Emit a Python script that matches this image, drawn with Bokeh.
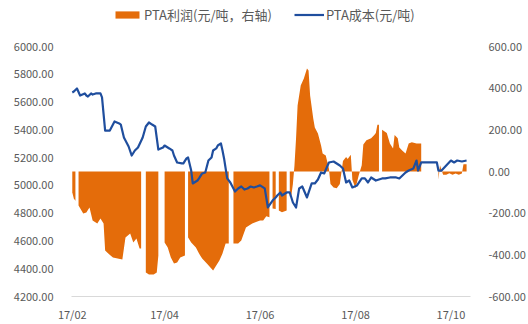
from datetime import datetime, timedelta
from bokeh.plotting import figure
from bokeh.layouts import column
from bokeh.models import (Range1d, LinearAxis, NumeralTickFormatter, FixedTicker,
                          DatetimeTickFormatter, Legend, LegendItem, ColumnDataSource)
from bokeh.embed import file_html
from bokeh.resources import INLINE

# ---------------- data ----------------
cost_dates = [
    "2017-02-01", "2017-02-02", "2017-02-04", "2017-02-06", "2017-02-09", "2017-02-10",
    "2017-02-11", "2017-02-13", "2017-02-14", "2017-02-16", "2017-02-19", "2017-02-20",
    "2017-02-22", "2017-02-25", "2017-02-28", "2017-03-03", "2017-03-04", "2017-03-06",
    "2017-03-09", "2017-03-11", "2017-03-13", "2017-03-15", "2017-03-18", "2017-03-20",
    "2017-03-22", "2017-03-24", "2017-03-26", "2017-03-28", "2017-03-31", "2017-04-01",
    "2017-04-04", "2017-04-06", "2017-04-07", "2017-04-09", "2017-04-12", "2017-04-13",
    "2017-04-15", "2017-04-16", "2017-04-18", "2017-04-19", "2017-04-22", "2017-04-23",
    "2017-04-25", "2017-04-27", "2017-04-29", "2017-05-01", "2017-05-02", "2017-05-04",
    "2017-05-05", "2017-05-07", "2017-05-08", "2017-05-09", "2017-05-11", "2017-05-13",
    "2017-05-16", "2017-05-18", "2017-05-20", "2017-05-22", "2017-05-24", "2017-05-26",
    "2017-05-28", "2017-05-30", "2017-06-01", "2017-06-04", "2017-06-06", "2017-06-09",
    "2017-06-11", "2017-06-12", "2017-06-14", "2017-06-15", "2017-06-18", "2017-06-20",
    "2017-06-22", "2017-06-24", "2017-06-26", "2017-06-28", "2017-07-01", "2017-07-04",
    "2017-07-06", "2017-07-08", "2017-07-10", "2017-07-12", "2017-07-15", "2017-07-18",
    "2017-07-22", "2017-07-24", "2017-07-26", "2017-07-28", "2017-07-30", "2017-08-02",
    "2017-08-05", "2017-08-07", "2017-08-09", "2017-08-11", "2017-08-14", "2017-08-18",
    "2017-08-20", "2017-08-23", "2017-08-27", "2017-08-29", "2017-09-02", "2017-09-04",
    "2017-09-07", "2017-09-09", "2017-09-10", "2017-09-12", "2017-09-15", "2017-09-18",
    "2017-09-22", "2017-09-23", "2017-09-25", "2017-09-28", "2017-10-01", "2017-10-03",
    "2017-10-05", "2017-10-08", "2017-10-11",
]
cost_values = [
    5669, 5676, 5698, 5647, 5662, 5647,
    5640, 5662, 5654, 5662, 5662, 5633,
    5395, 5395, 5460, 5446, 5438, 5345,
    5280, 5215, 5251, 5273, 5345, 5424,
    5453, 5438, 5424, 5258, 5273, 5287,
    5266, 5251, 5215, 5165, 5158, 5158,
    5194, 5201, 5107, 5014, 5035, 5050,
    5086, 5093, 5179, 5201, 5251, 5266,
    5287, 5302, 5251, 5194, 5050, 5021,
    4956, 4978, 4992, 4970, 4978, 4992,
    4985, 4992, 5000, 4978, 4841, 4891,
    4913, 4927, 4949, 4927, 4949, 4949,
    4877, 4841, 4978, 4992, 4913, 5014,
    5014, 5042, 5093, 5086, 5165, 5172,
    5143, 5122, 5021, 5035, 4985, 5000,
    5050, 5050, 5021, 5057, 5035, 5050,
    5050, 5057, 5057, 5050, 5093, 5107,
    5122, 5179, 5107, 5165, 5165, 5165,
    5165, 5107, 5107, 5143, 5179, 5165,
    5179, 5172, 5179,
]

# profit (right axis); None marks a missing day (gap in the area)
profit_dates = [
    "2017-02-01", "2017-02-02", "2017-02-03", "2017-02-04", "2017-02-05", "2017-02-08",
    "2017-02-10", "2017-02-12", "2017-02-14", "2017-02-17", "2017-02-19", "2017-02-21",
    "2017-02-22", "2017-02-24", "2017-02-27", "2017-03-02", "2017-03-05", "2017-03-07",
    "2017-03-10", "2017-03-12", "2017-03-14", "2017-03-16", "2017-03-17", "2017-03-18",
    "2017-03-20", "2017-03-22", "2017-03-25", "2017-03-27", "2017-03-28", "2017-03-30",
    "2017-04-01", "2017-04-03", "2017-04-05", "2017-04-07", "2017-04-09", "2017-04-11",
    "2017-04-14", "2017-04-15", "2017-04-16", "2017-04-18", "2017-04-21", "2017-04-23",
    "2017-04-25", "2017-04-28", "2017-05-02", "2017-05-04", "2017-05-06", "2017-05-08",
    "2017-05-10", "2017-05-12", "2017-05-13", "2017-05-15", "2017-05-18", "2017-05-20",
    "2017-05-23", "2017-05-27", "2017-06-01", "2017-06-03", "2017-06-05", "2017-06-07",
    "2017-06-08", "2017-06-09", "2017-06-11", "2017-06-12", "2017-06-13", "2017-06-15",
    "2017-06-18", "2017-06-19", "2017-06-20", "2017-06-21", "2017-06-22", "2017-06-23",
    "2017-06-24", "2017-06-25", "2017-06-27", "2017-06-29", "2017-07-01", "2017-07-02",
    "2017-07-03", "2017-07-05", "2017-07-06", "2017-07-08", "2017-07-10", "2017-07-11",
    "2017-07-13", "2017-07-15", "2017-07-16", "2017-07-18", "2017-07-20", "2017-07-22",
    "2017-07-24", "2017-07-26", "2017-07-27", "2017-07-29", "2017-07-30", "2017-08-01",
    "2017-08-03", "2017-08-05", "2017-08-06", "2017-08-08", "2017-08-11", "2017-08-13",
    "2017-08-14", "2017-08-15", "2017-08-16", "2017-08-17", "2017-08-18", "2017-08-21",
    "2017-08-23", "2017-08-25", "2017-08-26", "2017-08-28", "2017-08-29", "2017-08-31",
    "2017-09-02", "2017-09-04", "2017-09-06", "2017-09-09", "2017-09-12", "2017-09-13",
    "2017-09-23", "2017-09-24", "2017-09-26", "2017-09-28", "2017-09-30", "2017-10-02",
    "2017-10-04", "2017-10-06", "2017-10-08", "2017-10-09", "2017-10-11",
]
profit_values = [
    -100, -130, -140, None, -163, -202,
    -197, -173, -235, -250, -226, -250,
    -379, -394, -413, -418, -422, -317,
    -298, -341, -322, -370, -370, None,
    -485, -494, -494, -485, -403, None,
    -341, -365, -413, -442, -437, -413,
    -403, None, -317, -341, -365, -394,
    -418, -442, -475, -451, -427, -394,
    -345, -345, None, -346, -346, -331,
    -269, -250, -235, -235, -215, -220,
    None, -178, -180, None, -187, -195,
    -187, None, -120, -115, -60, 29,
    158, 317, 413, 446, 494, 485,
    365, 254, 211, 182, 125, 86,
    77, 14, -60, -77, -80, -60,
    50, 70, 60, 80, -40, -80,
    -20, 30, 130, 150, 160, 175,
    185, 225, 225, None, 200, 185,
    135, 110, 175, 160, 115, 100,
    86, 135, 140, 135, 135, None,
    -40, 30, -15, -15, -8, -15,
    -10, -15, -10, 35, 35,
]

x_tick_dates = ["2017-02-01", "2017-04-01", "2017-06-01", "2017-08-01", "2017-10-01"]
left_ticks = [4200, 4400, 4600, 4800, 5000, 5200, 5400, 5600, 5800, 6000]
right_ticks = [-600, -400, -200, 0, 200, 400, 600]

profit_label = "PTA利润(元/吨，右轴)"
cost_label = "PTA成本(元/吨)"

# ---------------- styling ----------------
ORANGE = "#E46C0A"
BLUE = "#1F4E9E"
TXT = "#595959"
FONT = "Noto Sans CJK SC"
FS = "11px"
LEG_FS = "13px"
LEG_H = 34


def d(s):
    return datetime.strptime(s, "%Y-%m-%d")


x_start = d("2017-02-01") - timedelta(hours=12)
x_end = d("2017-10-13") + timedelta(hours=12)

p = figure(width=528, height=324 - LEG_H, x_axis_type="datetime",
           x_range=Range1d(x_start, x_end), y_range=Range1d(4200, 6000),
           output_backend="svg", toolbar_location=None,
           min_border_left=71, min_border_right=56, min_border_top=46 - LEG_H,
           min_border_bottom=28)
p.extra_y_ranges = {"profit": Range1d(-600, 600)}
p.xgrid.visible = False
p.ygrid.visible = False
p.outline_line_color = None

# profit area split at gaps
segments = []
cur_x, cur_y = [], []
for ds, v in zip(profit_dates, profit_values):
    if v is None:
        if cur_x:
            segments.append((cur_x, cur_y))
        cur_x, cur_y = [], []
    else:
        cur_x.append(d(ds))
        cur_y.append(v)
if cur_x:
    segments.append((cur_x, cur_y))

for sx, sy in segments:
    src = ColumnDataSource(dict(x=sx, y2=sy, y1=[0] * len(sy)))
    p.varea(x="x", y1="y1", y2="y2", source=src, y_range_name="profit",
            fill_color=ORANGE, fill_alpha=1.0)

p.line([d(s) for s in cost_dates], cost_values, line_color=BLUE,
       line_width=2.2, line_join="round")

# axes
ya = p.yaxis[0]
ya.ticker = FixedTicker(ticks=left_ticks)
ya.formatter = NumeralTickFormatter(format="0.00")
ra = LinearAxis(y_range_name="profit")
ra.ticker = FixedTicker(ticks=right_ticks)
ra.formatter = NumeralTickFormatter(format="0.00")
p.add_layout(ra, "right")
for ax in (ya, ra):
    ax.axis_line_color = None
    ax.major_tick_line_color = None
    ax.minor_tick_line_color = None
    ax.major_label_standoff = 12
    ax.major_label_text_font = FONT
    ax.major_label_text_font_size = FS
    ax.major_label_text_color = TXT

xa = p.xaxis[0]
xa.ticker = FixedTicker(ticks=[d(s).timestamp() * 1000 for s in x_tick_dates])
xa.formatter = DatetimeTickFormatter(days="%y/%m", months="%y/%m", years="%y/%m",
                                     hours="%y/%m", minutes="%y/%m")
xa.axis_line_color = "#D9D9D9"
xa.axis_line_width = 1
xa.major_tick_line_color = None
xa.minor_tick_line_color = None
xa.major_tick_out = 0
xa.major_label_standoff = 9
xa.major_label_text_font = FONT
xa.major_label_text_font_size = FS
xa.major_label_text_color = TXT

# legend strip (separate small figure above the chart; proxies lie outside its range)
pl = figure(width=528, height=LEG_H, output_backend="svg", toolbar_location=None,
            x_range=Range1d(0, 1), y_range=Range1d(0, 1),
            x_axis_location=None, y_axis_location=None, min_border=0)
pl.grid.visible = False
pl.outline_line_color = None
r_area = pl.varea(x=[5, 6], y1=[5, 5], y2=[6, 6], fill_color=ORANGE)
r_line = pl.line(x=[5, 6], y=[5, 5], line_color=BLUE, line_width=2.2)
legend = Legend(items=[LegendItem(label=profit_label, renderers=[r_area]),
                       LegendItem(label=cost_label, renderers=[r_line])],
                orientation="horizontal", location=(41, 10),
                glyph_width=30, glyph_height=9, label_standoff=2, spacing=22,
                padding=0, margin=0, border_line_color=None,
                background_fill_alpha=0,
                label_text_font=FONT, label_text_font_size=LEG_FS,
                label_text_color=TXT, label_height=13)
pl.add_layout(legend, "center")

layout = column(pl, p, spacing=0)
open("out.html", "w").write(file_html(layout, INLINE))
